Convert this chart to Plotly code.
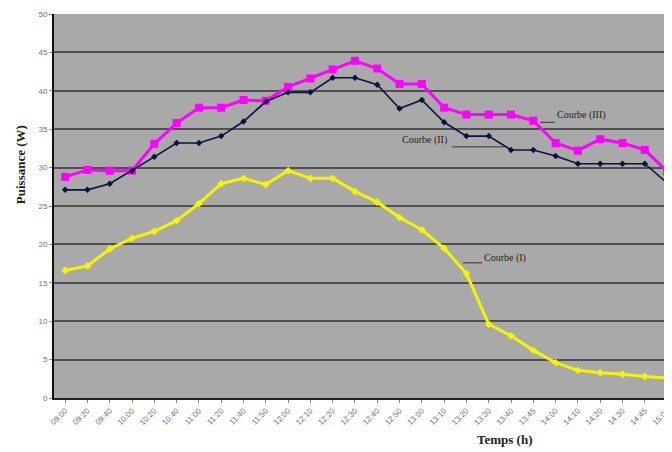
import plotly.graph_objects as go

times = ["09:00", "09:20", "09:40", "10:00", "10:20", "10:40", "11:00", "11:20", "11:40", "11:50",
         "12:00", "12:10", "12:20", "12:30", "12:40", "12:50", "13:00", "13:10", "13:20", "13:30",
         "13:40", "13:45", "14:00", "14:10", "14:20", "14:30", "14:45", "15:00"]

courbe_I = [16.6, 17.2, 19.4, 20.8, 21.7, 23.1, 25.3, 27.9, 28.6, 27.8,
            29.6, 28.6, 28.6, 26.9, 25.5, 23.5, 21.9, 19.5, 16.2, 9.6,
            8.1, 6.2, 4.6, 3.6, 3.3, 3.1, 2.8, 2.6]

courbe_II = [27.1, 27.1, 27.9, 29.6, 31.4, 33.2, 33.2, 34.1, 36.0, 38.6,
             39.8, 39.8, 41.7, 41.7, 40.8, 37.7, 38.8, 35.9, 34.1, 34.1,
             32.3, 32.3, 31.5, 30.5, 30.5, 30.5, 30.5, 28.0]

courbe_III = [28.8, 29.7, 29.6, 29.6, 33.1, 35.8, 37.8, 37.8, 38.8, 38.7,
              40.5, 41.6, 42.8, 43.9, 42.9, 40.9, 40.9, 37.8, 36.9, 36.9,
              36.9, 36.1, 33.2, 32.2, 33.7, 33.2, 32.3, 29.5]

y_ticks = [0, 5, 10, 15, 20, 25, 30, 35, 40, 45, 50]

idx = list(range(len(times)))

fig = go.Figure()
fig.add_trace(go.Scatter(x=idx, y=courbe_I, mode="lines+markers", name="Courbe (I)",
                         line=dict(color="#F5F500", width=3),
                         marker=dict(symbol="diamond", size=6, color="#F5F500")))
fig.add_trace(go.Scatter(x=idx, y=courbe_III, mode="lines+markers", name="Courbe (III)",
                         line=dict(color="#FF00FF", width=3),
                         marker=dict(symbol="square", size=8, color="#FF00FF")))
fig.add_trace(go.Scatter(x=idx, y=courbe_II, mode="lines+markers", name="Courbe (II)",
                         line=dict(color="#101040", width=1.6),
                         marker=dict(symbol="diamond", size=5, color="#101040")))

serif = "Liberation Serif"

fig.update_layout(
    width=664, height=444,
    margin=dict(l=46, r=0, t=6, b=54),
    paper_bgcolor="white",
    plot_bgcolor="#A9A9A9",
    showlegend=False,
    xaxis=dict(
        tickmode="array", tickvals=idx, ticktext=times, tickangle=-45,
        tickfont=dict(family="Arial", size=8, color="#707070"),
        range=[-0.5, 27.22], showgrid=False, zeroline=False,
        showline=True, linecolor="#222", linewidth=2,
        ticks="outside", ticklen=3, tickcolor="#888", automargin=False,
    ),
    yaxis=dict(
        tickmode="array", tickvals=y_ticks, range=[0, 50],
        tickfont=dict(family="Arial", size=8, color="#707070"),
        showgrid=True, gridcolor="#505050", gridwidth=2,
        zeroline=False, showline=True, linecolor="#111", linewidth=2,
        ticks="outside", ticklen=3, tickcolor="#888", automargin=False,
    ),
)

fig.add_annotation(text="<b>Puissance (W)</b>", xref="paper", yref="paper",
                   x=-0.053, y=0.607, textangle=-90, showarrow=False,
                   font=dict(family=serif, size=13, color="#222"),
                   xanchor="center", yanchor="middle")
fig.add_annotation(text="<b>Temps (h)</b>", xref="paper", yref="paper",
                   x=0.73, y=-0.109, showarrow=False,
                   font=dict(family=serif, size=13, color="#222"),
                   xanchor="center", yanchor="middle")

# curve labels with leader lines
fig.add_annotation(text="Courbe (III)", x=21.97, y=36.8, xref="x", yref="y",
                   showarrow=False, xanchor="left", yanchor="middle",
                   font=dict(family=serif, size=10, color="#222"))
fig.add_shape(type="line", x0=21.3, y0=35.9, x1=21.97, y1=35.9, xref="x", yref="y",
              line=dict(color="#333", width=1))
fig.add_annotation(text="Courbe (II)", x=15.0, y=33.6, xref="x", yref="y",
                   showarrow=False, xanchor="left", yanchor="middle",
                   font=dict(family=serif, size=10, color="#222"))
fig.add_shape(type="line", x0=17.35, y0=32.7, x1=19.7, y1=32.7, xref="x", yref="y",
              line=dict(color="#333", width=1))
fig.add_annotation(text="Courbe (I)", x=18.7, y=18.2, xref="x", yref="y",
                   showarrow=False, xanchor="left", yanchor="middle",
                   font=dict(family=serif, size=10, color="#222"))
fig.add_shape(type="line", x0=17.84, y0=17.6, x1=18.7, y1=17.6, xref="x", yref="y",
              line=dict(color="#333", width=1))

fig.write_html("out.html")
